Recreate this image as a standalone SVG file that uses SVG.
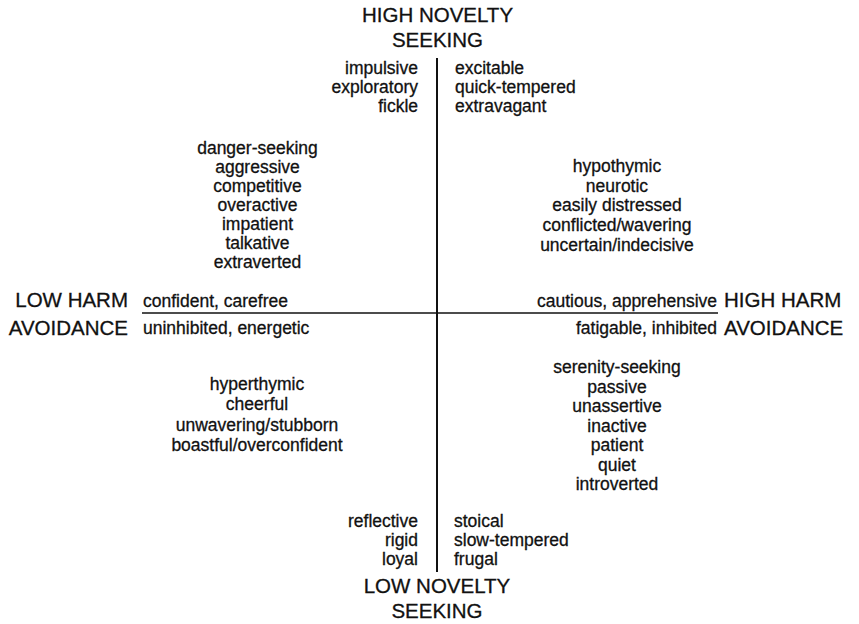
<svg xmlns="http://www.w3.org/2000/svg" width="859" height="624" viewBox="0 0 859 624">
<style>
text{font-family:"Liberation Sans",Arial,Helvetica,sans-serif;fill:#111;stroke:#111;stroke-width:0.3}
.h{font-size:20.5px}
.w{font-size:17.5px}
.e{text-anchor:end}
.m{text-anchor:middle}
.axis{stroke:#111;fill:none}
</style>
<rect width="859" height="624" fill="#fff"/>
<g id="connectors">
<line class="axis" x1="437" y1="58" x2="437" y2="572" stroke-width="2"/>
<line class="axis" x1="142" y1="313" x2="718" y2="313" stroke-width="1.6"/>
</g>
<g id="high-novelty">
<text class="h m" x="437.5" y="22">HIGH NOVELTY</text>
<text class="h m" x="437.5" y="47">SEEKING</text>
</g>
<g id="low-novelty">
<text class="h m" x="437" y="593">LOW NOVELTY</text>
<text class="h m" x="437" y="618">SEEKING</text>
</g>
<g id="low-harm">
<text class="h e" x="128" y="307">LOW HARM</text>
<text class="h e" x="128" y="335">AVOIDANCE</text>
</g>
<g id="high-harm">
<text class="h" x="724" y="307">HIGH HARM</text>
<text class="h" x="724" y="335">AVOIDANCE</text>
</g>
<g id="top-left-traits">
<text class="w e" x="418" y="74">impulsive</text>
<text class="w e" x="418" y="93">exploratory</text>
<text class="w e" x="418" y="112">fickle</text>
</g>
<g id="top-right-traits">
<text class="w" x="455" y="74">excitable</text>
<text class="w" x="455" y="93">quick-tempered</text>
<text class="w" x="455" y="112">extravagant</text>
</g>
<g id="upper-left-quadrant">
<text class="w m" x="257.5" y="154">danger-seeking</text>
<text class="w m" x="257.5" y="173">aggressive</text>
<text class="w m" x="257.5" y="192">competitive</text>
<text class="w m" x="257.5" y="211">overactive</text>
<text class="w m" x="257.5" y="230">impatient</text>
<text class="w m" x="257.5" y="249">talkative</text>
<text class="w m" x="257.5" y="268">extraverted</text>
</g>
<g id="upper-right-quadrant">
<text class="w m" x="617" y="172">hypothymic</text>
<text class="w m" x="617" y="191.7">neurotic</text>
<text class="w m" x="617" y="211.4">easily distressed</text>
<text class="w m" x="617" y="231.2">conflicted/wavering</text>
<text class="w m" x="617" y="251">uncertain/indecisive</text>
</g>
<g id="left-axis-traits">
<text class="w" x="143" y="307">confident, carefree</text>
<text class="w" x="143" y="334">uninhibited, energetic</text>
</g>
<g id="right-axis-traits">
<text class="w e" x="717" y="307">cautious, apprehensive</text>
<text class="w e" x="717" y="334">fatigable, inhibited</text>
</g>
<g id="lower-left-quadrant">
<text class="w m" x="257" y="390">hyperthymic</text>
<text class="w m" x="257" y="410.3">cheerful</text>
<text class="w m" x="257" y="430.7">unwavering/stubborn</text>
<text class="w m" x="257" y="451">boastful/overconfident</text>
</g>
<g id="lower-right-quadrant">
<text class="w m" x="617" y="373">serenity-seeking</text>
<text class="w m" x="617" y="392.5">passive</text>
<text class="w m" x="617" y="412">unassertive</text>
<text class="w m" x="617" y="431.5">inactive</text>
<text class="w m" x="617" y="451">patient</text>
<text class="w m" x="617" y="470.5">quiet</text>
<text class="w m" x="617" y="490">introverted</text>
</g>
<g id="bottom-left-traits">
<text class="w e" x="418" y="527">reflective</text>
<text class="w e" x="418" y="546">rigid</text>
<text class="w e" x="418" y="565">loyal</text>
</g>
<g id="bottom-right-traits">
<text class="w" x="454" y="527">stoical</text>
<text class="w" x="454" y="546">slow-tempered</text>
<text class="w" x="454" y="565">frugal</text>
</g>
</svg>
